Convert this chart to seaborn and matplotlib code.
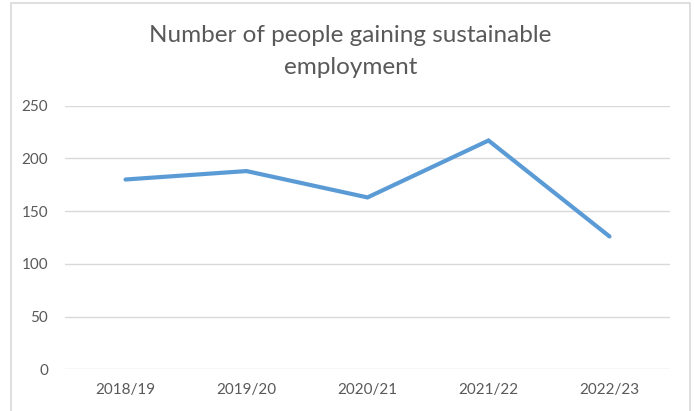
import matplotlib
matplotlib.use("Agg")
import matplotlib.pyplot as plt
import seaborn as sns
import pandas as pd
from matplotlib.patches import Rectangle

years = ["2018/19", "2019/20", "2020/21", "2021/22", "2022/23"]
people = [180, 188, 163, 217, 126]
y_ticks = [0, 50, 100, 150, 200, 250]
title_lines = ["Number of people gaining sustainable", "employment"]

sns.set_theme(style="white")
plt.rcParams["font.family"] = ["Lato", "DejaVu Sans"]

TEXT = "#595959"
GRID = "#D9D9D9"
BLUE = "#5B9BD5"

df = pd.DataFrame({"year": years, "people": people})

fig = plt.figure(figsize=(6.95, 4.11), dpi=100)
ax = fig.add_axes([65/695, 1-369.3/411, (670-65)/695, (369.3-105.7)/411])

sns.lineplot(data=df, x="year", y="people", ax=ax, color=BLUE, linewidth=3.0,
             sort=False)
ax.lines[0].set_solid_capstyle("round")
ax.lines[0].set_solid_joinstyle("miter")

ax.set_xlim(-0.5, len(years) - 0.5)
ax.set_ylim(0, 250)
ax.set_yticks(y_ticks)
ax.set_yticklabels([str(v) for v in y_ticks])
ax.set_xlabel("")
ax.set_ylabel("")
for s in ax.spines.values():
    s.set_visible(False)
ax.yaxis.grid(True, color=GRID, linewidth=1.0)
ax.xaxis.grid(False)
ax.set_axisbelow(True)
ax.tick_params(axis="y", length=0, pad=12, labelsize=11, labelcolor=TEXT)
ax.tick_params(axis="x", length=0, pad=10, labelsize=11, labelcolor=TEXT)
ax.patch.set_alpha(0)

# chart border
fig.patches.append(Rectangle((11/695, -0.02), (690-11)/695, 1.02 - 3.5/411,
                             transform=fig.transFigure, fill=False,
                             edgecolor=GRID, linewidth=1.2))

fig.text(350.5/695, 1-36/411, title_lines[0], ha="center", va="center",
         fontsize=17.5, color=TEXT)
fig.text(350.5/695, 1-68/411, title_lines[1], ha="center", va="center",
         fontsize=17.5, color=TEXT)

fig.savefig("out.png", dpi=100)
